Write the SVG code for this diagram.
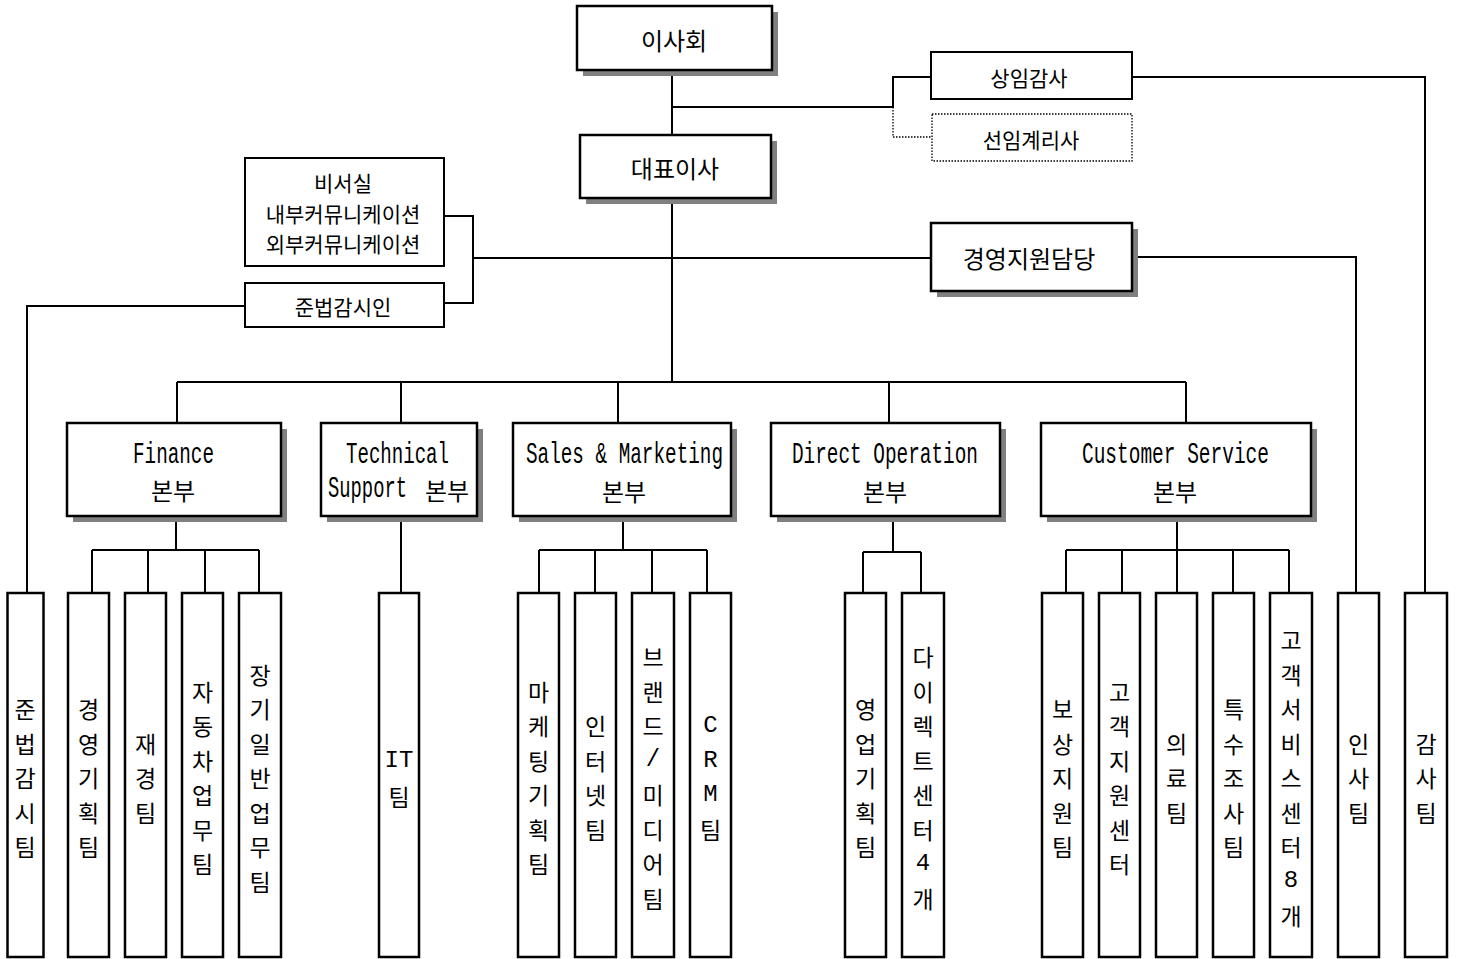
<svg xmlns="http://www.w3.org/2000/svg" width="1457" height="959" viewBox="0 0 1457 959">
<style>
.bg{fill:#fff}
.box{fill:#fff;stroke:#000;stroke-width:2.5}
.sbox{fill:#fff;stroke:#000;stroke-width:2}
.dbox{fill:#fff;stroke:#000;stroke-width:1.3;stroke-dasharray:1.5 1.5}
.sh{fill:#808080}
.ln{fill:none;stroke:#000;stroke-width:2}
.dl{fill:none;stroke:#000;stroke-width:1.3;stroke-dasharray:1.5 1.5}
.k{font-family:"Noto Sans CJK KR","Noto Sans CJK SC",sans-serif;font-size:24px;fill:#000;text-anchor:middle;dominant-baseline:central}
.ks{font-family:"Noto Sans CJK KR","Noto Sans CJK SC",sans-serif;font-size:21px;fill:#000;text-anchor:middle;dominant-baseline:central}
.v{font-family:"Noto Sans CJK KR","Noto Sans CJK SC",sans-serif;font-size:23px;fill:#000;text-anchor:middle;dominant-baseline:central}
.vl{font-family:"Liberation Mono","DejaVu Sans Mono",monospace;font-size:24px;fill:#000;text-anchor:middle;dominant-baseline:central}
.lt{font-family:"Liberation Mono","DejaVu Sans Mono",monospace;font-size:20px;fill:#000}
</style>
<rect class="bg" x="0" y="0" width="1457" height="959"/>

<g id="connectors">
  <path class="ln" d="M672,70 V135"/>
  <path class="ln" d="M672,107 H893 V77 H931"/>
  <path class="dl" d="M893,107 V137 H932"/>
  <path class="ln" d="M1132,77 H1425 V593"/>
  <path class="ln" d="M672,198 V382"/>
  <path class="ln" d="M473,258 H931"/>
  <path class="ln" d="M444,216 H473 V303 H444"/>
  <path class="ln" d="M245,306 H27 V593"/>
  <path class="ln" d="M1132,257 H1356 V593"/>
  <path class="ln" d="M177,382 H1186"/>
  <path class="ln" d="M177,382 V423 M401,382 V423 M618,382 V423 M889,382 V423 M1186,382 V423"/>
  <path class="ln" d="M176,516 V550 M92,550 H259 M92,550 V593 M148,550 V593 M205,550 V593 M259,550 V593"/>
  <path class="ln" d="M401,516 V593"/>
  <path class="ln" d="M623,516 V550 M539,550 H707 M539,550 V593 M595,550 V593 M652,550 V593 M707,550 V593"/>
  <path class="ln" d="M893,516 V552 M863,552 H921 M863,552 V593 M921,552 V593"/>
  <path class="ln" d="M1177,516 V550 M1066,550 H1289 M1066,550 V593 M1122,550 V593 M1177,550 V593 M1233,550 V593 M1289,550 V593"/>
</g>

<g id="board">
  <rect class="sh" x="583" y="12" width="195" height="64"/>
  <rect class="box" x="577" y="6" width="195" height="64"/>
  <text class="k" x="674" y="39">이사회</text>
</g>
<g id="ceo">
  <rect class="sh" x="586" y="141" width="191" height="63"/>
  <rect class="box" x="580" y="135" width="191" height="63"/>
  <text class="k" x="675" y="167">대표이사</text>
</g>
<g id="auditor">
  <rect class="sbox" x="931" y="52" width="201" height="47"/>
  <text class="ks" x="1029" y="77">상임감사</text>
</g>
<g id="actuary">
  <rect class="dbox" x="932" y="114" width="200" height="47"/>
  <text class="ks" x="1031" y="139">선임계리사</text>
</g>
<g id="secretary">
  <rect class="sbox" x="245" y="158" width="199" height="108"/>
  <text class="ks" x="343" y="182">비서실</text>
  <text class="ks" x="343" y="213">내부커뮤니케이션</text>
  <text class="ks" x="343" y="243">외부커뮤니케이션</text>
</g>
<g id="compliance">
  <rect class="sbox" x="245" y="283" width="199" height="44"/>
  <text class="ks" x="343" y="306">준법감시인</text>
</g>
<g id="mgmt">
  <rect class="sh" x="937" y="229" width="201" height="68"/>
  <rect class="box" x="931" y="223" width="201" height="68"/>
  <text class="k" x="1029" y="257">경영지원담당</text>
</g>

<g id="div-finance">
  <rect class="sh" x="73" y="429" width="214" height="93"/>
  <rect class="box" x="67" y="423" width="214" height="93"/>
  <text class="lt" transform="scale(1,1.45)" x="133" y="319.3" textLength="81" lengthAdjust="spacingAndGlyphs">Finance</text>
  <text class="k" x="173" y="489">본부</text>
</g>
<g id="div-tech">
  <rect class="sh" x="327" y="429" width="156" height="93"/>
  <rect class="box" x="321" y="423" width="156" height="93"/>
  <text class="lt" transform="scale(1,1.45)" x="346" y="319.3" textLength="103" lengthAdjust="spacingAndGlyphs">Technical</text>
  <text class="lt" transform="scale(1,1.45)" x="328" y="342.8" textLength="79" lengthAdjust="spacingAndGlyphs">Support</text>
  <text class="k" x="447" y="489">본부</text>
</g>
<g id="div-sales">
  <rect class="sh" x="519" y="429" width="218" height="93"/>
  <rect class="box" x="513" y="423" width="218" height="93"/>
  <text class="lt" transform="scale(1,1.45)" x="526" y="319.3" textLength="197" lengthAdjust="spacingAndGlyphs">Sales &amp; Marketing</text>
  <text class="k" x="624" y="490">본부</text>
</g>
<g id="div-direct">
  <rect class="sh" x="777" y="429" width="229" height="93"/>
  <rect class="box" x="771" y="423" width="229" height="93"/>
  <text class="lt" transform="scale(1,1.45)" x="792" y="319.3" textLength="186" lengthAdjust="spacingAndGlyphs">Direct Operation</text>
  <text class="k" x="885" y="490">본부</text>
</g>
<g id="div-cs">
  <rect class="sh" x="1047" y="429" width="270" height="93"/>
  <rect class="box" x="1041" y="423" width="270" height="93"/>
  <text class="lt" transform="scale(1,1.45)" x="1082" y="319.3" textLength="187" lengthAdjust="spacingAndGlyphs">Customer Service</text>
  <text class="k" x="1175" y="490">본부</text>
</g>

<g id="t-compliance">
  <rect class="box" x="7.5" y="593" width="36" height="364"/>
  <text class="v"><tspan x="25" y="708">준</tspan><tspan x="25" y="742.5">법</tspan><tspan x="25" y="777">감</tspan><tspan x="25" y="811.5">시</tspan><tspan x="25" y="846">팀</tspan></text>
</g>
<g id="t-plan">
  <rect class="box" x="68" y="593" width="41" height="364"/>
  <text class="v"><tspan x="88.5" y="708">경</tspan><tspan x="88.5" y="742.5">영</tspan><tspan x="88.5" y="777">기</tspan><tspan x="88.5" y="811.5">획</tspan><tspan x="88.5" y="846">팀</tspan></text>
</g>
<g id="t-fin">
  <rect class="box" x="125" y="593" width="41" height="364"/>
  <text class="v"><tspan x="145.5" y="742.5">재</tspan><tspan x="145.5" y="777">경</tspan><tspan x="145.5" y="811.5">팀</tspan></text>
</g>
<g id="t-auto">
  <rect class="box" x="182" y="593" width="41" height="364"/>
  <text class="v"><tspan x="202.5" y="690.75">자</tspan><tspan x="202.5" y="725.25">동</tspan><tspan x="202.5" y="759.75">차</tspan><tspan x="202.5" y="794.25">업</tspan><tspan x="202.5" y="828.75">무</tspan><tspan x="202.5" y="863.25">팀</tspan></text>
</g>
<g id="t-long">
  <rect class="box" x="239" y="593" width="42" height="364"/>
  <text class="v"><tspan x="260" y="673.5">장</tspan><tspan x="260" y="708">기</tspan><tspan x="260" y="742.5">일</tspan><tspan x="260" y="777">반</tspan><tspan x="260" y="811.5">업</tspan><tspan x="260" y="846">무</tspan><tspan x="260" y="880.5">팀</tspan></text>
</g>
<g id="t-it">
  <rect class="box" x="379" y="593" width="40" height="364"/>
  <text class="vl" x="399" y="760">IT</text>
  <text class="v" x="399" y="796">팀</text>
</g>
<g id="t-mkt">
  <rect class="box" x="518" y="593" width="41" height="364"/>
  <text class="v"><tspan x="538.5" y="690.75">마</tspan><tspan x="538.5" y="725.25">케</tspan><tspan x="538.5" y="759.75">팅</tspan><tspan x="538.5" y="794.25">기</tspan><tspan x="538.5" y="828.75">획</tspan><tspan x="538.5" y="863.25">팀</tspan></text>
</g>
<g id="t-internet">
  <rect class="box" x="575" y="593" width="41" height="364"/>
  <text class="v"><tspan x="595.5" y="725.25">인</tspan><tspan x="595.5" y="759.75">터</tspan><tspan x="595.5" y="794.25">넷</tspan><tspan x="595.5" y="828.75">팀</tspan></text>
</g>
<g id="t-brand">
  <rect class="box" x="632" y="593" width="42" height="364"/>
  <text class="v"><tspan x="653" y="656.25">브</tspan><tspan x="653" y="690.75">랜</tspan><tspan x="653" y="725.25">드</tspan></text>
  <text class="vl" x="653" y="759.75">/</text>
  <text class="v"><tspan x="653" y="794.25">미</tspan><tspan x="653" y="828.75">디</tspan><tspan x="653" y="863.25">어</tspan><tspan x="653" y="897.75">팀</tspan></text>
</g>
<g id="t-crm">
  <rect class="box" x="690" y="593" width="41" height="364"/>
  <text class="vl"><tspan x="710.5" y="725.25">C</tspan><tspan x="710.5" y="759.75">R</tspan><tspan x="710.5" y="794.25">M</tspan></text>
  <text class="v" x="710.5" y="828.75">팀</text>
</g>
<g id="t-salesplan">
  <rect class="box" x="845" y="593" width="41" height="364"/>
  <text class="v"><tspan x="865.5" y="708">영</tspan><tspan x="865.5" y="742.5">업</tspan><tspan x="865.5" y="777">기</tspan><tspan x="865.5" y="811.5">획</tspan><tspan x="865.5" y="846">팀</tspan></text>
</g>
<g id="t-direct">
  <rect class="box" x="902" y="593" width="42" height="364"/>
  <text class="v"><tspan x="923" y="656.25">다</tspan><tspan x="923" y="690.75">이</tspan><tspan x="923" y="725.25">렉</tspan><tspan x="923" y="759.75">트</tspan><tspan x="923" y="794.25">센</tspan><tspan x="923" y="828.75">터</tspan></text>
  <text class="vl" x="923" y="863.25">4</text>
  <text class="v" x="923" y="897.75">개</text>
</g>
<g id="t-comp">
  <rect class="box" x="1042" y="593" width="41" height="364"/>
  <text class="v"><tspan x="1062.5" y="708">보</tspan><tspan x="1062.5" y="742.5">상</tspan><tspan x="1062.5" y="777">지</tspan><tspan x="1062.5" y="811.5">원</tspan><tspan x="1062.5" y="846">팀</tspan></text>
</g>
<g id="t-cssupport">
  <rect class="box" x="1099" y="593" width="41" height="364"/>
  <text class="v"><tspan x="1119.5" y="690.75">고</tspan><tspan x="1119.5" y="725.25">객</tspan><tspan x="1119.5" y="759.75">지</tspan><tspan x="1119.5" y="794.25">원</tspan><tspan x="1119.5" y="828.75">센</tspan><tspan x="1119.5" y="863.25">터</tspan></text>
</g>
<g id="t-medical">
  <rect class="box" x="1156" y="593" width="41" height="364"/>
  <text class="v"><tspan x="1176.5" y="742.5">의</tspan><tspan x="1176.5" y="777">료</tspan><tspan x="1176.5" y="811.5">팀</tspan></text>
</g>
<g id="t-special">
  <rect class="box" x="1213" y="593" width="41" height="364"/>
  <text class="v"><tspan x="1233.5" y="708">특</tspan><tspan x="1233.5" y="742.5">수</tspan><tspan x="1233.5" y="777">조</tspan><tspan x="1233.5" y="811.5">사</tspan><tspan x="1233.5" y="846">팀</tspan></text>
</g>
<g id="t-cscenter">
  <rect class="box" x="1270" y="593" width="42" height="364"/>
  <text class="v"><tspan x="1291" y="639">고</tspan><tspan x="1291" y="673.5">객</tspan><tspan x="1291" y="708">서</tspan><tspan x="1291" y="742.5">비</tspan><tspan x="1291" y="777">스</tspan><tspan x="1291" y="811.5">센</tspan><tspan x="1291" y="846">터</tspan></text>
  <text class="vl" x="1291" y="880.5">8</text>
  <text class="v" x="1291" y="915">개</text>
</g>
<g id="t-hr">
  <rect class="box" x="1338" y="593" width="41" height="364"/>
  <text class="v"><tspan x="1358.5" y="742.5">인</tspan><tspan x="1358.5" y="777">사</tspan><tspan x="1358.5" y="811.5">팀</tspan></text>
</g>
<g id="t-audit">
  <rect class="box" x="1405" y="593" width="42" height="364"/>
  <text class="v"><tspan x="1426" y="742.5">감</tspan><tspan x="1426" y="777">사</tspan><tspan x="1426" y="811.5">팀</tspan></text>
</g>
</svg>
